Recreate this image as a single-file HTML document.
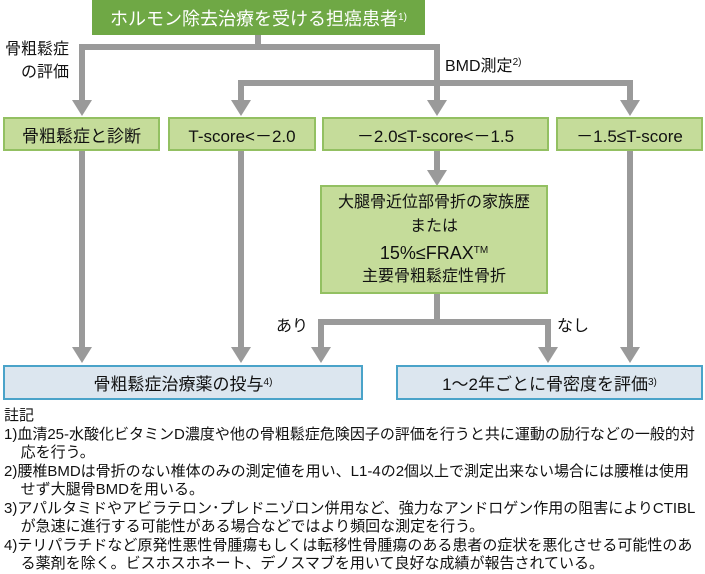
<!DOCTYPE html>
<html><head><meta charset="utf-8"><style>
body{margin:0;width:705px;height:573px;background:#fff;position:relative;overflow:hidden;font-family:"Liberation Sans","Noto Sans CJK JP",sans-serif;color:#111}
.a{position:absolute}
.l{position:absolute;background:#9a9a9a}
.t{position:absolute;width:0;height:0;border-left:10px solid transparent;border-right:10px solid transparent;border-top:16px solid #9a9a9a}
.g{position:absolute;background:#c5dc9a;border:2px solid #93c062;box-sizing:border-box;display:flex;align-items:center;justify-content:center;font-size:17px}
.b{position:absolute;background:#dce6ef;border:2px solid #4aa3c9;box-sizing:border-box;display:flex;align-items:center;justify-content:center;font-size:17px}
sup{font-size:10px;vertical-align:6px}
.n{position:absolute;left:4px;font-size:15px;white-space:nowrap;line-height:18.5px}
</style></head><body>
<div class="a" style="left:92px;top:0;width:333px;height:35px;background:#6fa845;color:#fff;font-size:18px;display:flex;align-items:center;justify-content:center">ホルモン除去治療を受ける担癌患者<sup>1)</sup></div>

<div class="l" style="left:255px;top:35px;width:6px;height:15px"></div>
<div class="l" style="left:79px;top:44px;width:361px;height:6px"></div>
<div class="l" style="left:79px;top:44px;width:6px;height:57px"></div><div class="t" style="left:72px;top:100px"></div>
<div class="l" style="left:434px;top:44px;width:6px;height:57px"></div><div class="t" style="left:427px;top:100px"></div>
<div class="l" style="left:238px;top:80px;width:395px;height:6px"></div>
<div class="l" style="left:238px;top:80px;width:6px;height:21px"></div><div class="t" style="left:231px;top:100px"></div>
<div class="l" style="left:627px;top:80px;width:6px;height:21px"></div><div class="t" style="left:620px;top:100px"></div>

<div class="a" style="left:5px;top:38px;font-size:16px;line-height:23px;text-align:right">骨粗鬆症<br>の評価</div>
<div class="a" style="left:445px;top:52px;font-size:16px">BMD測定<sup>2)</sup></div>

<div class="g" style="left:3px;top:117px;width:157px;height:34px">骨粗鬆症と診断</div>
<div class="g" style="left:168px;top:117px;width:148px;height:34px">T-score&lt;－2.0</div>
<div class="g" style="left:322px;top:117px;width:227px;height:34px">－2.0≤T-score&lt;－1.5</div>
<div class="g" style="left:556px;top:117px;width:147px;height:34px">－1.5≤T-score</div>

<div class="l" style="left:79px;top:151px;width:6px;height:197px"></div><div class="t" style="left:72px;top:347px"></div>
<div class="l" style="left:238px;top:151px;width:6px;height:197px"></div><div class="t" style="left:231px;top:347px"></div>
<div class="l" style="left:627px;top:151px;width:6px;height:197px"></div><div class="t" style="left:620px;top:347px"></div>
<div class="l" style="left:434px;top:151px;width:6px;height:20px"></div><div class="t" style="left:427px;top:170px"></div>

<div class="g" style="left:320px;top:185px;width:228px;height:109px;flex-direction:column;font-size:16px;line-height:24px;text-align:center">大腿骨近位部骨折の家族歴<br>または<br><span style="font-size:18px">15%≤FRAX<sup>TM</sup></span>主要骨粗鬆症性骨折</div>

<div class="l" style="left:434px;top:294px;width:6px;height:28px"></div>
<div class="l" style="left:318px;top:319px;width:233px;height:6px"></div>
<div class="l" style="left:318px;top:319px;width:6px;height:29px"></div><div class="t" style="left:311px;top:347px"></div>
<div class="l" style="left:545px;top:319px;width:6px;height:29px"></div><div class="t" style="left:538px;top:347px"></div>
<div class="a" style="left:276px;top:312px;font-size:16px">あり</div>
<div class="a" style="left:557px;top:312px;font-size:16px">なし</div>

<div class="b" style="left:3px;top:365px;width:360px;height:35px">骨粗鬆症治療薬の投与<sup>4)</sup></div>
<div class="b" style="left:396px;top:365px;width:307px;height:35px">1～2年ごとに骨密度を評価<sup>3)</sup></div>

<div class="n" style="top:407px">註記<br>1)血清25-水酸化ビタミンD濃度や他の骨粗鬆症危険因子の評価を行うと共に運動の励行などの一般的対<br>&nbsp;&nbsp;&nbsp;&nbsp;応を行う。<br>2)腰椎BMDは骨折のない椎体のみの測定値を用い、L1-4の2個以上で測定出来ない場合には腰椎は使用<br>&nbsp;&nbsp;&nbsp;&nbsp;せず大腿骨BMDを用いる。<br>3)アパルタミドやアビラテロン･プレドニゾロン併用など、強力なアンドロゲン作用の阻害によりCTIBL<br>&nbsp;&nbsp;&nbsp;&nbsp;が急速に進行する可能性がある場合などではより頻回な測定を行う。<br>4)テリパラチドなど原発性悪性骨腫瘍もしくは転移性骨腫瘍のある患者の症状を悪化させる可能性のあ<br>&nbsp;&nbsp;&nbsp;&nbsp;る薬剤を除く。ビスホスホネート、デノスマブを用いて良好な成績が報告されている。</div>
</body></html>
